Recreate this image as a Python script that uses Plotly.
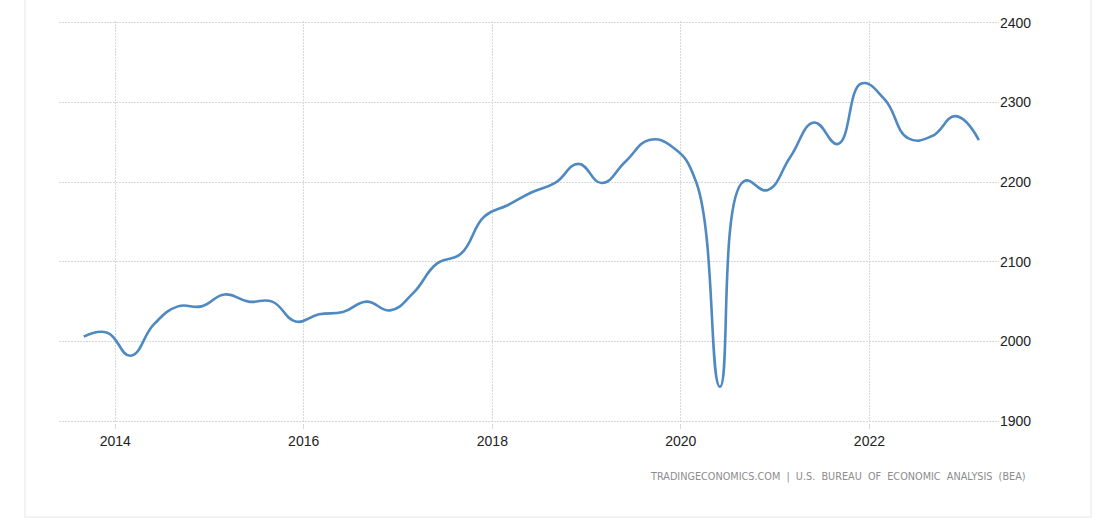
import plotly.graph_objects as go

dates = [
    "2013-09-01", "2013-12-01",
    "2014-03-01", "2014-06-01", "2014-09-01", "2014-12-01",
    "2015-03-01", "2015-06-01", "2015-09-01", "2015-12-01",
    "2016-03-01", "2016-06-01", "2016-09-01", "2016-12-01",
    "2017-03-01", "2017-06-01", "2017-09-01", "2017-12-01",
    "2018-03-01", "2018-06-01", "2018-09-01", "2018-12-01",
    "2019-03-01", "2019-06-01", "2019-09-01", "2019-12-01",
    "2020-03-01", "2020-06-01", "2020-09-01", "2020-12-01",
    "2021-03-01", "2021-06-01", "2021-09-01", "2021-12-01",
    "2022-03-01", "2022-06-01", "2022-09-01", "2022-12-01",
    "2023-03-01",
]
values = [
    2006, 2011,
    1982, 2022, 2044, 2044,
    2059, 2050, 2050, 2025,
    2034, 2037, 2050, 2039,
    2061, 2098, 2110, 2157,
    2171, 2187, 2199, 2223,
    2199, 2226, 2253, 2244,
    2200, 1943, 2201, 2190,
    2232, 2275, 2248, 2324,
    2304, 2255, 2258, 2283,
    2253,
]
x_tick_vals = ["2014-01-01", "2016-01-01", "2018-01-01", "2020-01-01", "2022-01-01"]
x_tick_text = ["2014", "2016", "2018", "2020", "2022"]
y_tick_vals = [1900, 2000, 2100, 2200, 2300, 2400]
source_text = "TRADINGECONOMICS.COM  |  U.S.  BUREAU  OF  ECONOMIC  ANALYSIS  (BEA)"

fig = go.Figure()
fig.add_trace(go.Scatter(
    x=dates, y=values, mode="lines",
    line=dict(color="#4f89c1", width=2.6, shape="spline", smoothing=1.3),
    hoverinfo="x+y", showlegend=False,
))

grid_color = "#d9d9d9"
fig.update_layout(
    width=1094, height=518,
    margin=dict(l=59, r=95, t=21, b=95),
    paper_bgcolor="white", plot_bgcolor="white",
    font=dict(family="Liberation Sans, Arial, sans-serif", size=14, color="#222222"),
    xaxis=dict(
        type="date",
        range=["2013-05-28", "2023-05-18"],
        tickvals=x_tick_vals, ticktext=x_tick_text,
        showgrid=True, gridcolor=grid_color, griddash="2px,1px", gridwidth=1,
        ticks="outside", ticklen=5, tickcolor=grid_color,
        showline=False, zeroline=False,
        tickfont=dict(size=14, color="#222222"),
    ),
    yaxis=dict(
        side="right",
        range=[1897.5, 2402.5],
        tickvals=y_tick_vals,
        showgrid=True, gridcolor=grid_color, griddash="2px,1px", gridwidth=1,
        ticks="", showline=False, zeroline=False,
        tickfont=dict(size=14, color="#222222"),
    ),
    shapes=[dict(
        type="rect", xref="paper", yref="paper",
        x0=-0.0362, x1=1.0979, y0=-0.2338, y1=1.07,
        line=dict(color="#e6e6e6", width=1), fillcolor="rgba(0,0,0,0)",
        layer="below",
    )],
    annotations=[dict(
        text=source_text, xref="paper", yref="paper",
        x=1.031, y=-0.1343, xanchor="right", yanchor="middle",
        showarrow=False,
        font=dict(family="DejaVu Sans, sans-serif", size=9.7, color="#8c8c8c"),
    )],
)

fig.write_html("out.html")
